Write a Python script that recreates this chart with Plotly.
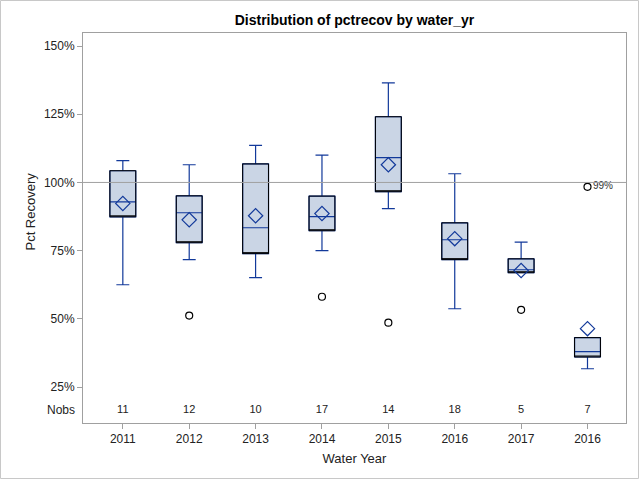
import plotly.graph_objects as go

# ---- data ----
years = ["2011", "2012", "2013", "2014", "2015", "2016", "2017", "2016"]
nobs = [11, 12, 10, 17, 14, 18, 5, 7]
q1 = [87.4, 77.9, 73.9, 82.3, 96.6, 71.7, 66.9, 36.0]
median = [92.9, 88.9, 83.4, 87.5, 109.1, 79.0, 68.0, 38.0]
q3 = [104.3, 95.1, 106.8, 95.0, 124.1, 85.2, 72.0, 43.1]
lower_whisker = [62.5, 71.7, 65.1, 75.0, 90.4, 53.7, 66.9, 31.7]
upper_whisker = [108.0, 106.5, 113.6, 110.0, 136.5, 103.2, 78.1, 43.1]
means = [92.3, 86.3, 87.8, 88.6, 106.5, 79.4, 67.7, 46.4]
outlier_idx = [1, 3, 4, 6, 7]
outlier_val = [51.2, 58.1, 48.6, 53.3, 98.4]
outlier_labels = ["", "", "", "", "99%"]
ref_line = 100
y_ticks = [25, 50, 75, 100, 125, 150]
y_ticklabels = ["25%", "50%", "75%", "100%", "125%", "150%"]

pos = list(range(len(years)))
BLUE = "#12399a"
FILL = "#cad5e5"
FONT = "Liberation Sans, Arial, sans-serif"

fig = go.Figure()

# blue box (whiskers + median)
fig.add_trace(go.Box(
    x=pos, q1=q1, median=median, q3=q3,
    lowerfence=lower_whisker, upperfence=upper_whisker,
    fillcolor=FILL, line=dict(color=BLUE, width=1.2),
    width=0.39, whiskerwidth=0.5, boxpoints=False,
    hoverinfo="skip", showlegend=False))

# black outline of the box
fig.add_trace(go.Box(
    x=pos, q1=q1, median=q1, q3=q3,
    lowerfence=q1, upperfence=q3,
    fillcolor="rgba(0,0,0,0)", line=dict(color="black", width=1),
    width=0.39, whiskerwidth=0, boxpoints=False,
    hoverinfo="skip", showlegend=False))

# means
fig.add_trace(go.Scatter(
    x=pos, y=means, mode="markers",
    marker=dict(symbol="diamond-open", size=11, color=BLUE, line=dict(width=1.2)),
    showlegend=False, hoverinfo="skip"))

# outliers
fig.add_trace(go.Scatter(
    x=outlier_idx, y=outlier_val, mode="markers+text",
    text=outlier_labels, textposition="middle right",
    textfont=dict(family=FONT, size=10, color="#333333"),
    marker=dict(symbol="circle-open", size=7, color="black", line=dict(width=1.2)),
    showlegend=False, hoverinfo="skip"))

# Nobs row
nobs_y = 16.4
fig.add_trace(go.Scatter(
    x=pos, y=[nobs_y] * len(pos), mode="text",
    text=[str(n) for n in nobs],
    textfont=dict(family=FONT, size=11, color="#222222"),
    showlegend=False, hoverinfo="skip"))

fig.add_hline(y=ref_line, line=dict(color="#a0a0a0", width=1))

fig.add_annotation(x=0, xref="paper", y=nobs_y, yref="y", text="Nobs",
                   xanchor="right", xshift=-6, showarrow=False,
                   font=dict(family=FONT, size=12, color="#222222"))
fig.add_annotation(x=-0.116, xref="paper", y=0.541, yref="paper",
                   text="Pct Recovery", textangle=-90, showarrow=False,
                   font=dict(family=FONT, size=13, color="#222222"))

# outer border
L, R, T, B = 83, 14, 33, 57
W, H = 640, 480
pw, ph = W - L - R, H - T - B
fig.add_shape(type="rect", xref="paper", yref="paper",
              x0=-(L - 0.5) / pw, x1=1 + (R - 1.5) / pw,
              y0=-(B - 1.5) / ph, y1=1 + (T - 0.5) / ph,
              line=dict(color="#c8c8c8", width=1), layer="below")

fig.update_layout(
    width=W, height=H,
    margin=dict(l=L, r=R, t=T, b=B),
    paper_bgcolor="white", plot_bgcolor="white",
    title=dict(text="<b>Distribution of pctrecov by water_yr</b>",
               x=(L + pw / 2) / W, xanchor="center", y=1 - 20 / H, yanchor="middle",
               font=dict(family=FONT, size=14, color="black")),
    boxmode="overlay",
    font=dict(family=FONT, size=12, color="#222222"),
    xaxis=dict(range=[-0.6, 7.58], tickvals=pos, ticktext=years,
               showgrid=False, zeroline=False,
               showline=True, mirror=True, linecolor="#a0a0a0", linewidth=1,
               ticks="outside", ticklen=5, tickcolor="#a0a0a0",
               tickfont=dict(family=FONT, size=12, color="#222222"),
               title=dict(text="Water Year", standoff=8,
                          font=dict(family=FONT, size=13, color="#222222"))),
    yaxis=dict(range=[11.8, 154.8], tickvals=y_ticks, ticktext=y_ticklabels,
               showgrid=False, zeroline=False,
               showline=True, mirror=True, linecolor="#a0a0a0", linewidth=1,
               ticks="outside", ticklen=5, tickcolor="#a0a0a0",
               tickfont=dict(family=FONT, size=12, color="#222222")),
)

fig.write_html("out.html", config={"displayModeBar": False},
               post_script="document.body.style.margin='0';")
